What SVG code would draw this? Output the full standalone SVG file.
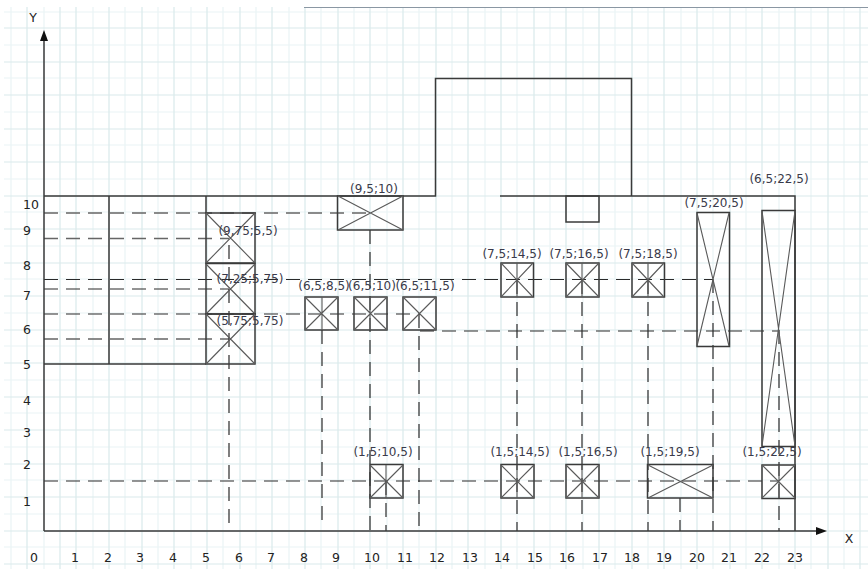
<svg xmlns="http://www.w3.org/2000/svg" width="868" height="569" viewBox="0 0 868 569">
<style>
.gm{stroke:#d9eaec;stroke-width:1.2;fill:none}
.gn{stroke:#e9f4f6;stroke-width:1.2;fill:none}
.s{stroke:#3a3a3a;stroke-width:1.5;fill:none}
.b{stroke:#3a3a3a;stroke-width:1.5;fill:none}
.x{stroke:#5a5a5a;stroke-width:1.1;fill:none}
.d{stroke:#2a2a2a;stroke-width:1.2;fill:none;stroke-dasharray:14 8}
.g{stroke:#666;stroke-width:1.5;fill:none;stroke-dasharray:14 8}
text{font-family:"DejaVu Sans","Liberation Sans",sans-serif;fill:#3a3a4a}
.l{font-size:12px;text-anchor:middle}
.n{font-size:12.5px;text-anchor:middle;fill:#222}
</style>
<defs>
<marker id="arrow" markerUnits="userSpaceOnUse" markerWidth="12" markerHeight="10" refX="1" refY="4" orient="auto"><path d="M0 0L11 4L0 8z" fill="#111"/></marker>
</defs>
<rect width="868" height="569" fill="#fff"/>
<g id="grid">
<path class="gn" d="M11 7V569M44 7V569M93 7V569M125 7V569M158 7V569M191 7V569M223 7V569M256 7V569M289 7V569M321 7V569M354 7V569M387 7V569M419 7V569M452 7V569M485 7V569M517 7V569M550 7V569M583 7V569M615 7V569M648 7V569M681 7V569M713 7V569M746 7V569M779 7V569M811 7V569M844 7V569"/>
<path class="gn" d="M4 12H868M4 45H868M4 78H868M4 112H868M4 145H868M4 179H868M4 212H868M4 246H868M4 279H868M4 313H868M4 346H868M4 380H868M4 413H868M4 447H868M4 480H868M4 514H868M4 547H868"/>
<path class="gm" d="M27 7V569M60 7V569M76 7V569M109 7V569M142 7V569M174 7V569M207 7V569M240 7V569M272 7V569M305 7V569M338 7V569M370 7V569M403 7V569M436 7V569M468 7V569M501 7V569M534 7V569M566 7V569M599 7V569M632 7V569M664 7V569M697 7V569M730 7V569M762 7V569M795 7V569M828 7V569M860 7V569"/>
<path class="gm" d="M4 28H868M4 62H868M4 95H868M4 129H868M4 162H868M4 196H868M4 229H868M4 263H868M4 296H868M4 330H868M4 363H868M4 397H868M4 430H868M4 464H868M4 497H868M4 531H868M4 564H868"/>
<path d="M304 7.500H868" stroke="#8a97a3" stroke-width="1"/>
</g>
<g id="connectors">
<path class="g" d="M44 213H370M44 238.500H229M44 339H229"/>
<path class="d" d="M44 279.500H713M44 289H229M44 314H420M420 331H779M44 481H779"/>
<path class="d" d="M229 245V531M322 330V526M370 230V531M386 481V531M419 314V531M517 280V531M582 280V531M648 280V531M680 498V531M713 279V531M779 330V531"/>
</g>
<g id="axes">
<path class="s" d="M44 531V40" marker-end="url(#arrow)"/>
<path class="s" d="M44 531H817" marker-end="url(#arrow)"/>
</g>
<g id="building">
<path class="s" d="M44 196H435.500V78.500H631.500V196M500 196H795V531M44 364H206M109 196V364M206 196V213"/>
<rect class="s" x="566" y="196" width="33" height="26"/>
</g>
<g id="n-9-75-5-5"><rect class="b" x="206" y="213" width="49" height="50"/><path class="x" d="M206 213L255 263M255 213L206 263"/><text class="l" x="248" y="235">(9,75;5,5)</text></g>
<g id="n-7-25-5-75"><rect class="b" x="206" y="263.500" width="49" height="50.500"/><path class="x" d="M206 264L255 314M255 264L206 314"/><text class="l" x="250" y="283">(7,25;5,75)</text></g>
<g id="n-5-75-5-75"><rect class="b" x="206" y="314" width="49" height="50"/><path class="x" d="M206 314L255 364M255 314L206 364"/><text class="l" x="250" y="325">(5,75;5,75)</text></g>
<g id="n-9-5-10"><rect class="b" x="337.500" y="196" width="65.500" height="34"/><path class="x" d="M338 196L403 230M403 196L338 230"/><text class="l" x="374" y="193">(9,5;10)</text></g>
<g id="n-6-5-8-5"><rect class="b" x="305" y="297" width="33" height="33"/><path class="x" d="M305 297L338 330M338 297L305 330M322 297V330"/><text class="l" x="324" y="290">(6,5;8,5)</text></g>
<g id="n-6-5-10"><rect class="b" x="354" y="297" width="33" height="33"/><path class="x" d="M354 297L387 330M387 297L354 330M370 297V330"/><text class="l" x="372" y="290">(6,5;10)</text></g>
<g id="n-6-5-11-5"><rect class="b" x="403" y="297" width="33" height="33"/><path class="x" d="M403 297L436 330M436 297L403 330"/><text class="l" x="425" y="290">(6,5;11,5)</text></g>
<g id="n-7-5-14-5"><rect class="b" x="501" y="263" width="32.500" height="34"/><path class="x" d="M501 263L533 297M533 263L501 297M517 263V297"/><text class="l" x="512" y="258">(7,5;14,5)</text></g>
<g id="n-7-5-16-5"><rect class="b" x="566" y="263" width="33" height="34"/><path class="x" d="M566 263L599 297M599 263L566 297M582 263V297"/><text class="l" x="579" y="258">(7,5;16,5)</text></g>
<g id="n-7-5-18-5"><rect class="b" x="632" y="263" width="32.500" height="34"/><path class="x" d="M632 263L664 297M664 263L632 297M648 263V297"/><text class="l" x="648" y="258">(7,5;18,5)</text></g>
<g id="n-7-5-20-5"><rect class="b" x="697" y="212.500" width="32.500" height="134"/><path class="x" d="M697 213L729 346M729 213L697 346"/><text class="l" x="714" y="207">(7,5;20,5)</text></g>
<g id="n-6-5-22-5"><rect class="b" x="762" y="210.500" width="33" height="236"/><path class="x" d="M762 211L795 446M795 211L762 446"/><text class="l" x="779" y="183">(6,5;22,5)</text></g>
<g id="n-1-5-10-5"><rect class="b" x="370" y="464.500" width="33" height="33.500"/><path class="x" d="M370 465L403 498M403 465L370 498M386 465V498"/><text class="l" x="383" y="456">(1,5;10,5)</text></g>
<g id="n-1-5-14-5"><rect class="b" x="501" y="464.500" width="33" height="33.500"/><path class="x" d="M501 465L534 498M534 465L501 498M517 465V498"/><text class="l" x="520" y="456">(1,5;14,5)</text></g>
<g id="n-1-5-16-5"><rect class="b" x="566" y="464.500" width="33" height="33.500"/><path class="x" d="M566 465L599 498M599 465L566 498M582 465V498"/><text class="l" x="588" y="456">(1,5;16,5)</text></g>
<g id="n-1-5-19-5"><rect class="b" x="647.500" y="464.500" width="65.500" height="33.500"/><path class="x" d="M648 465L713 498M713 465L648 498"/><text class="l" x="670" y="456">(1,5;19,5)</text></g>
<g id="n-1-5-22-5"><rect class="b" x="762" y="465" width="33" height="33.500"/><path class="x" d="M762 465L795 498M795 465L762 498M779 465V498"/><text class="l" x="772" y="456">(1,5;22,5)</text></g>
<g id="axis-labels">
<text class="n" x="33" y="22">Y</text><text class="n" x="849" y="543">X</text>
<text class="n" x="31" y="209">10</text><text class="n" x="27" y="235">9</text><text class="n" x="27" y="270">8</text><text class="n" x="27" y="300">7</text><text class="n" x="27" y="334">6</text><text class="n" x="27" y="369">5</text><text class="n" x="27" y="405">4</text><text class="n" x="27" y="437">3</text><text class="n" x="27" y="469">2</text><text class="n" x="27" y="506">1</text>
<text class="n" x="34" y="562">0</text><text class="n" x="75" y="562">1</text><text class="n" x="108" y="562">2</text><text class="n" x="140" y="562">3</text><text class="n" x="173" y="562">4</text><text class="n" x="206" y="562">5</text><text class="n" x="239" y="562">6</text><text class="n" x="271" y="562">7</text><text class="n" x="304" y="562">8</text><text class="n" x="336" y="562">9</text><text class="n" x="372" y="562">10</text><text class="n" x="405" y="562">11</text><text class="n" x="437" y="562">12</text><text class="n" x="470" y="562">13</text><text class="n" x="502" y="562">14</text><text class="n" x="535" y="562">15</text><text class="n" x="567" y="562">16</text><text class="n" x="600" y="562">17</text><text class="n" x="632" y="562">18</text><text class="n" x="664" y="562">19</text><text class="n" x="697" y="562">20</text><text class="n" x="729" y="562">21</text><text class="n" x="762" y="562">22</text><text class="n" x="795" y="562">23</text>
</g>
</svg>
